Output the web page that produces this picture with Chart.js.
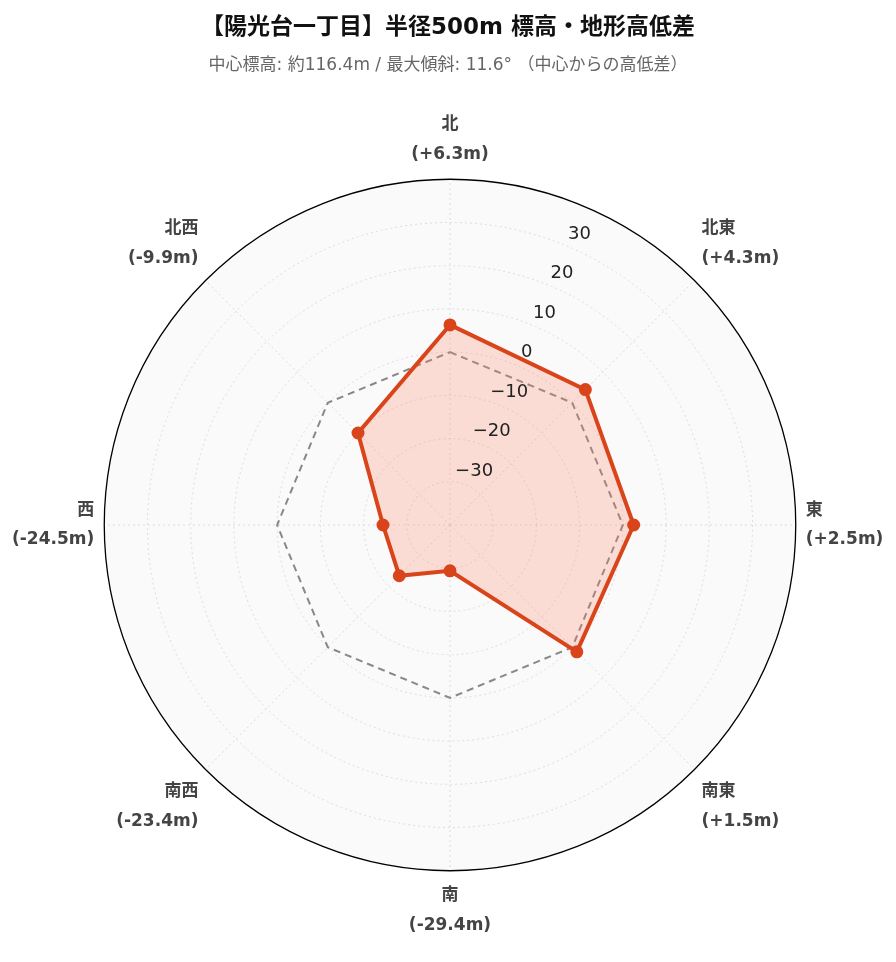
<!DOCTYPE html>
<html><head><meta charset="utf-8">
<script src="https://cdn.jsdelivr.net/npm/chart.js@4"></script>
<style>html,body{margin:0;padding:0;background:#fff}#w{width:896px;height:962px}</style>
</head><body><div id="w"><canvas id="c"></canvas></div>
<script>
const directions = ['北','北東','東','南東','南','南西','西','北西'];
const diffLabels = ['(+6.3m)','(+4.3m)','(+2.5m)','(+1.5m)','(-29.4m)','(-23.4m)','(-24.5m)','(-9.9m)'];
const diffs = [6.3, 4.3, 2.5, 1.5, -29.4, -23.4, -24.5, -9.9];
const baseline = [0,0,0,0,0,0,0,0];
const tickValues = [-30,-20,-10,0,10,20,30];
const FONT = '"DejaVu Sans","Noto Sans CJK JP",sans-serif';

const deco = {
  id:'deco',
  beforeDraw(chart){
    const s = chart.scales.r, ctx = chart.ctx;
    ctx.save(); ctx.fillStyle='#fafafa';
    ctx.beginPath(); ctx.arc(s.xCenter,s.yCenter,s.drawingArea,0,Math.PI*2); ctx.fill(); ctx.restore();
  },
  afterDraw(chart){
    const s = chart.scales.r, ctx = chart.ctx;
    ctx.save(); ctx.strokeStyle='#000'; ctx.lineWidth=1.3;
    ctx.beginPath(); ctx.arc(s.xCenter,s.yCenter,s.drawingArea,0,Math.PI*2); ctx.stroke();
    ctx.fillStyle='#222'; ctx.font='18px '+FONT; ctx.textAlign='center'; ctx.textBaseline='middle';
    const a = 24*Math.PI/180;
    tickValues.forEach(v=>{
      const r = s.getDistanceFromCenterForValue(v)+16;
      ctx.fillText(v<0?'\u2212'+Math.abs(v):String(v), s.xCenter+r*Math.sin(a), s.yCenter-r*Math.cos(a));
    });
    ctx.restore();
  }
};

new Chart(document.getElementById('c'),{
  type:'radar',
  data:{
    labels: directions.map((d,i)=>[d,diffLabels[i]]),
    datasets:[
      {data:diffs,borderColor:'#d9441a',backgroundColor:'rgba(250,130,105,0.25)',borderWidth:4,fill:'start',
       pointRadius:4.5,pointBackgroundColor:'#d9441a',pointBorderColor:'#d9441a'},
      {data:baseline,borderColor:'#888',borderDash:[7,5],borderWidth:2,fill:false,pointRadius:0}
    ]
  },
  plugins:[deco],
  options:{
    responsive:true,maintainAspectRatio:false,animation:false,
    layout:{padding:{top:12,bottom:10,left:10,right:10}},
    plugins:{
      legend:{display:false},tooltip:{enabled:false},
      title:{display:true,text:'【陽光台一丁目】半径500m 標高・地形高低差',color:'#111',font:{family:FONT,size:23,weight:'bold'},padding:{top:2,bottom:14}},
      subtitle:{display:true,text:'中心標高: 約116.4m / 最大傾斜: 11.6° （中心からの高低差）',color:'#666',font:{family:FONT,size:17},padding:{bottom:22}}
    },
    scales:{r:{
      min:-40,max:40,
      ticks:{display:false,stepSize:10},
      grid:{circular:true,color:c=>c.index===8?'rgba(0,0,0,0)':'#ddd',lineWidth:1},
      border:{dash:[2,3]},
      angleLines:{color:'#ddd',borderDash:[2,3]},
      pointLabels:{color:'#444',font:{family:FONT,size:17,weight:'bold',lineHeight:1.75},padding:10}
    }}
  }
});
</script></body></html>
